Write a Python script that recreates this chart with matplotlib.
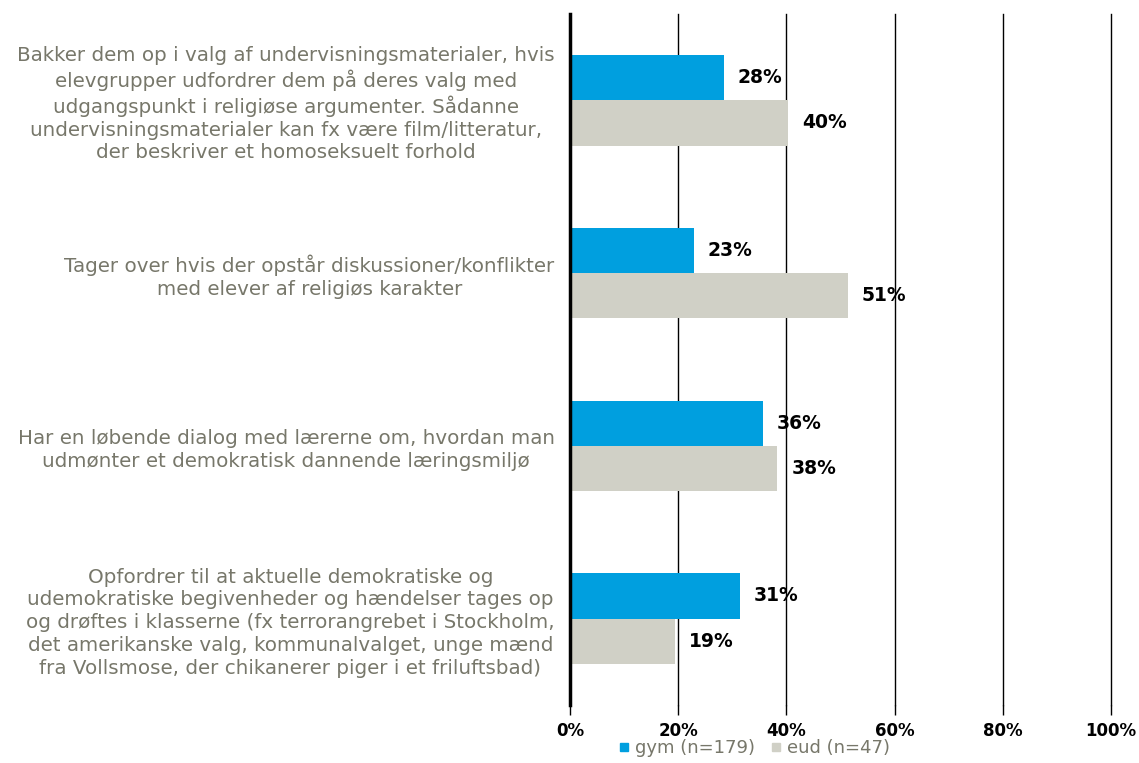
import numpy as np
import matplotlib.pyplot as plt
from matplotlib.ticker import PercentFormatter
from matplotlib.lines import Line2D

plt.rcParams["font.family"] = ["DejaVu Sans"]

categories = [
    "Bakker dem op i valg af undervisningsmaterialer, hvis\n"
    "elevgrupper udfordrer dem på deres valg med\n"
    "udgangspunkt i religiøse argumenter. Sådanne\n"
    "undervisningsmaterialer kan fx være film/litteratur,\n"
    "der beskriver et homoseksuelt forhold",
    "Tager over hvis der opstår diskussioner/konflikter\n"
    "med elever af religiøs karakter",
    "Har en løbende dialog med lærerne om, hvordan man\n"
    "udmønter et demokratisk dannende læringsmiljø",
    "Opfordrer til at aktuelle demokratiske og\n"
    "udemokratiske begivenheder og hændelser tages op\n"
    "og drøftes i klasserne (fx terrorangrebet i Stockholm,\n"
    "det amerikanske valg, kommunalvalget, unge mænd\n"
    "fra Vollsmose, der chikanerer piger i et friluftsbad)",
]
gym = [0.284, 0.229, 0.357, 0.314]
eud = [0.403, 0.513, 0.383, 0.194]
series_names = ["gym (n=179)", "eud (n=47)"]

blue = "#009FDF"
grey = "#D0D0C6"
text_col = "#77776A"

fig = plt.figure(figsize=(11.39, 7.63), dpi=100)
ax = fig.add_axes([0.5004, 0.076, 0.475, 0.9057])

y = np.arange(len(categories))
h = 0.262
ax.barh(y - h / 2, gym, height=h, color=blue, zorder=3)
ax.barh(y + h / 2, eud, height=h, color=grey, zorder=3)

for i in range(len(categories)):
    ax.text(gym[i] + 0.026, y[i] - h / 2, f"{gym[i]:.0%}", va="center", ha="left",
            fontsize=13.5, fontweight="bold", color="black")
    ax.text(eud[i] + 0.026, y[i] + h / 2, f"{eud[i]:.0%}", va="center", ha="left",
            fontsize=13.5, fontweight="bold", color="black")

ax.set_xlim(0, 1)
ax.set_ylim(3.5, -0.5)
ax.set_xticks(np.arange(0, 1.01, 0.2))
ax.xaxis.set_major_formatter(PercentFormatter(1.0, decimals=0))
ax.grid(axis="x", color="black", linewidth=1, zorder=0)
for gl in ax.get_xgridlines():
    gl.set_clip_on(False)
for s in ["top", "right", "bottom"]:
    ax.spines[s].set_visible(False)
ax.spines["left"].set_linewidth(2.5)
ax.spines["left"].set_zorder(4)
ax.tick_params(axis="x", length=7, width=1, pad=5, labelsize=12)
for lab in ax.get_xticklabels():
    lab.set_fontweight("bold")

ax.set_yticks(y)
ax.set_yticklabels(categories, fontsize=14.3, color=text_col, multialignment="center",
                   linespacing=1.25)
ax.tick_params(axis="y", length=0, pad=11)

handles = [Line2D([], [], marker="s", linestyle="none", color=blue, markersize=6),
           Line2D([], [], marker="s", linestyle="none", color=grey, markersize=6)]
leg = fig.legend(handles, series_names, loc="lower center", bbox_to_anchor=(0.66, -0.014),
                 ncol=2, frameon=False, fontsize=13, handletextpad=0.0, handlelength=1.2,
                 columnspacing=0.6)
for t in leg.get_texts():
    t.set_color(text_col)

fig.savefig("out.png", dpi=100)
